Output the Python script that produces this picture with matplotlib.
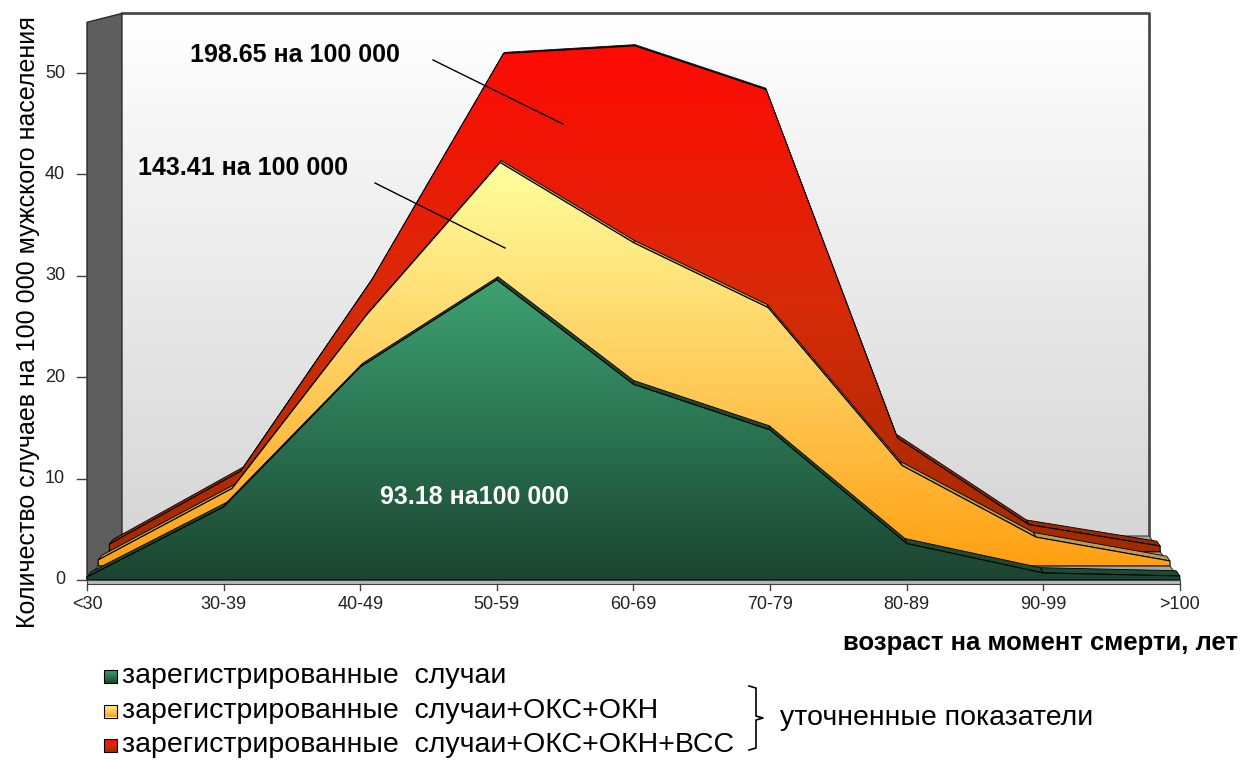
import matplotlib.pyplot as plt
import numpy as np
from matplotlib.patches import Polygon
from matplotlib.colors import LinearSegmentedColormap

plt.rcParams['font.family'] = ['Liberation Sans', 'DejaVu Sans']

# data (per 100 000 male population)
ages = ['<30', '30-39', '40-49', '50-59', '60-69', '70-79', '80-89', '90-99', '>100']
registered = [0.3, 7.2, 21.0, 29.6, 19.3, 14.8, 3.6, 0.7, 0.4]
registered_oks_okn = [0.6, 7.8, 25.2, 40.6, 32.5, 26.0, 10.1, 2.9, 0.5]
registered_oks_okn_vss = [0.8, 8.3, 28.0, 51.2, 52.0, 47.5, 11.7, 2.8, 0.6]
y_ticks = [0, 10, 20, 30, 40, 50]
series_names = ['зарегистрированные  случаи',
                'зарегистрированные  случаи+ОКС+ОКН',
                'зарегистрированные  случаи+ОКС+ОКН+ВСС']
totals = ['93.18 на100 000', '143.41 на 100 000', '198.65 на 100 000']

W, H = 1242, 763
fig = plt.figure(figsize=(W / 100, H / 100), dpi=100)
ax = fig.add_axes([0, 0, 1, 1])

# front plane: category 0 at 87 px, 136.6 px per category; value 0 at 580 px, 10.14 px per unit
XS, YS = 136.6, 10.14
XLIM = (-87 / XS, (W - 87) / XS)
YLIM = (-(H - 580) / YS, 580 / YS)
YMAX = 55


def proj(i, v, d):
    # simple perspective: depth d in [0, 1] moves up-right and shrinks a bit
    i = np.asarray(i, float)
    v = np.asarray(v, float)
    d = np.asarray(d, float)
    return np.column_stack([i * (1 - 0.06 * d) + 0.256 * d + 0 * v,
                            v * (1 - 0.063 * d) + 4.34 * d + 0 * i])


def px(x, y):
    return (x - 87) / XS, (580 - y) / YS


def gradient_patch(xy, colors, z, ec='black', lw=0.8):
    poly = Polygon(xy, closed=True, fc='none', ec=ec, lw=lw, zorder=z + 0.01,
                   joinstyle='round')
    ax.add_patch(poly)
    cmap = LinearSegmentedColormap.from_list('g', colors)
    x0, y0 = xy.min(axis=0)
    x1, y1 = xy.max(axis=0)
    im = ax.imshow(np.linspace(0, 1, 256)[:, None], cmap=cmap, origin='lower',
                   extent=[x0, x1, y0, y1], aspect='auto', zorder=z,
                   interpolation='bilinear')
    im.set_clip_path(poly)


n = len(ages)
idx = np.arange(n)

# walls and floor
gradient_patch(proj([0, 8, 8, 0], [0, 0, YMAX, YMAX], 1), ['#d6d6d6', '#ffffff'], 1, ec='none')
edge = proj([0, 8, 8], [YMAX, YMAX, 0], 1)
ax.plot(edge[:, 0], edge[:, 1], color='#4a4a4a', lw=2, zorder=1.5)
ax.add_patch(Polygon(proj([0, 0, 0, 0], [0, 0, YMAX, YMAX], [0, 1, 1, 0]),
                     fc='#5e5e5e', ec='#2a2a2a', lw=1, zorder=2))
ax.add_patch(Polygon(proj([0, 8, 8, 0], [0, 0, 0, 0], [0, 0, 1, 1]),
                     fc='#a4a4a4', ec='#404040', lw=0.8, zorder=2))
ax.add_patch(Polygon(proj([0, 8, 8, 0], [0, 0, -0.35, -0.35], 0),
                     fc='#b8b8b8', ec='#404040', lw=0.8, zorder=9))

layers = [
    (registered_oks_okn_vss, 0.64, 0.75, ['#a02c00', '#d82a08', '#ff0a04'], '#982800', 3),
    (registered_oks_okn, 0.32, 0.43, ['#ffa012', '#ffcf60', '#ffff9e'], '#b89a50', 5),
    (registered, 0.0, 0.12, ['#1c4430', '#2a7452', '#3ea272'], '#1c4a32', 7),
]
for vals, df, db, cols, rib, z in layers:
    vals = np.asarray(vals)
    for k in range(n - 1):
        q = proj([k, k + 1, k + 1, k], [vals[k], vals[k + 1], vals[k + 1], vals[k]],
                 [df, df, db, db])
        ax.add_patch(Polygon(q, fc=rib, ec='black', lw=0.6, zorder=z))
    front = proj(np.r_[0, idx, n - 1], np.r_[0, vals, 0], df)
    gradient_patch(front, cols, z + 1)

# axes ticks
for v in y_ticks:
    ax.plot([-0.07, 0], [v, v], color='#404040', lw=1, zorder=9)
    ax.text(-0.16, v, str(v), ha='right', va='center', fontsize=13, color='#222222')
for i, lab in enumerate(ages):
    ax.plot([i, i], [-0.35, -1.0], color='#404040', lw=1, zorder=9)
    ax.text(i, -2.4, lab, ha='center', va='center', fontsize=13, color='#222222')

ax.text(*px(28, 322), 'Количество случаев на 100 000 мужского населения', rotation=90,
        ha='center', va='center', fontsize=18)
ax.text(*px(1238, 643), 'возраст на момент смерти, лет', ha='right', va='center',
        fontsize=18.5, fontweight='bold')

# totals with leader lines
ax.text(*px(295, 55), totals[2], ha='center', va='center', fontsize=18, fontweight='bold')
ax.plot(*zip(px(433, 60), px(563, 124)), color='black', lw=1, zorder=10)
ax.text(*px(243, 168), totals[1], ha='center', va='center', fontsize=18, fontweight='bold')
ax.plot(*zip(px(375, 183), px(505, 248)), color='black', lw=1, zorder=10)
ax.text(*px(474, 497), totals[0], ha='center', va='center', fontsize=18,
        fontweight='bold', color='white', zorder=12)

# legend
leg_cols = [layers[2][3], layers[1][3], layers[0][3]]
for k, (name, cols) in enumerate(zip(series_names, leg_cols)):
    yc = 676 + 34.5 * k
    x0, y0 = px(104, yc + 7)
    x1, y1 = px(117, yc - 6)
    gradient_patch(np.array([[x0, y0], [x1, y0], [x1, y1], [x0, y1]]), cols, 12)
    ax.text(*px(122, yc), name, ha='left', va='center', fontsize=20.5)

br = [px(749, 686), px(756, 688), px(756, 716), px(763, 718), px(756, 720),
      px(756, 748), px(749, 750)]
ax.plot([p[0] for p in br], [p[1] for p in br], color='black', lw=1.2)
ax.text(*px(780, 718), 'уточненные показатели', ha='left', va='center', fontsize=20.5)

ax.set_xlim(*XLIM)
ax.set_ylim(*YLIM)
ax.axis('off')
fig.savefig('out.png', dpi=100)
